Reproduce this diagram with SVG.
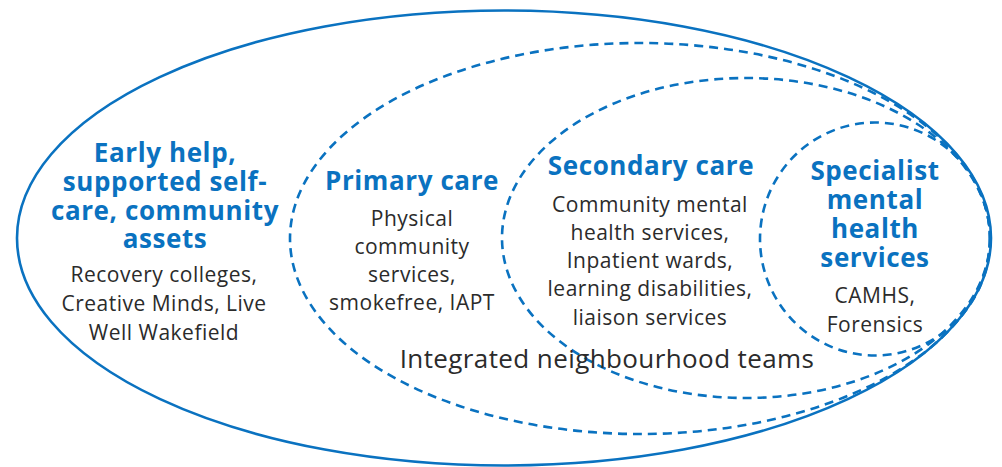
<svg xmlns="http://www.w3.org/2000/svg" width="1002" height="467" viewBox="0 0 1002 467">
<style>
.ring{fill:none;stroke:#0a72c0;stroke-width:2.6}
.dash{stroke-dasharray:9 6}
.t{font-family:"Open Sans","Liberation Sans",sans-serif;font-weight:bold;font-size:26px;letter-spacing:0.6px;fill:#0a72c0;text-anchor:middle}
.b{font-family:"Open Sans","Liberation Sans",sans-serif;font-size:21px;letter-spacing:0.5px;fill:#2b2b2b;text-anchor:middle}
.l{font-family:"Open Sans","Liberation Sans",sans-serif;font-size:26px;letter-spacing:0.4px;fill:#2b2b2b;text-anchor:middle}
</style>
<rect width="1002" height="467" fill="#fff"/>
<g id="early-help">
<ellipse class="ring" cx="504" cy="238" rx="487" ry="227.5"/>
<text class="t" x="165" y="162">Early help,</text>
<text class="t" x="165" y="191">supported self-</text>
<text class="t" x="165" y="220">care, community</text>
<text class="t" x="165" y="248">assets</text>
<text class="b" x="164" y="282">Recovery colleges,</text>
<text class="b" x="164" y="311">Creative Minds, Live</text>
<text class="b" x="164" y="340">Well Wakefield</text>
</g>
<g id="primary-care">
<ellipse class="ring dash" cx="640" cy="238.5" rx="350" ry="195.5"/>
<text class="t" x="412" y="190">Primary care</text>
<text class="b" x="412" y="226">Physical</text>
<text class="b" x="412" y="254">community</text>
<text class="b" x="412" y="282">services,</text>
<text class="b" x="412" y="310">smokefree, IAPT</text>
</g>
<g id="secondary-care">
<ellipse class="ring dash" cx="746" cy="238" rx="244" ry="160"/>
<text class="t" x="651" y="175">Secondary care</text>
<text class="b" x="650" y="212">Community mental</text>
<text class="b" x="650" y="240">health services,</text>
<text class="b" x="650" y="268">Inpatient wards,</text>
<text class="b" x="650" y="296">learning disabilities,</text>
<text class="b" x="650" y="325">liaison services</text>
</g>
<g id="specialist">
<ellipse class="ring dash" cx="875" cy="239" rx="115" ry="116.5"/>
<text class="t" x="875" y="180">Specialist</text>
<text class="t" x="875" y="209">mental</text>
<text class="t" x="875" y="238">health</text>
<text class="t" x="875" y="267">services</text>
<text class="b" x="875" y="303">CAMHS,</text>
<text class="b" x="875" y="332">Forensics</text>
</g>
<g id="integrated-teams">
<text class="l" x="607" y="368">Integrated neighbourhood teams</text>
</g>
<g id="connectors"/>
</svg>
